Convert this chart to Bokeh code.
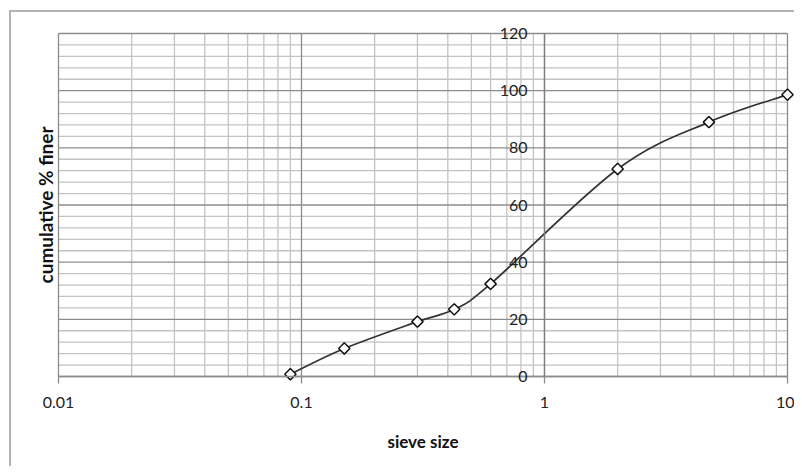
import numpy as np
from bokeh.plotting import figure
from bokeh.models import FixedTicker, Range1d, Label, CustomJSTickFormatter
from bokeh.embed import file_html
from bokeh.resources import INLINE

# ---- data ----
sieve_size = [0.09, 0.15, 0.3, 0.425, 0.6, 2.0, 4.75, 10.0]
pct_finer = [0.8, 9.8, 19.2, 23.5, 32.4, 72.6, 89.0, 98.6]

x_major = [0.01, 0.1, 1, 10]
y_major = [0, 20, 40, 60, 80, 100, 120]

x_minor = [d * m for d in [0.01, 0.1, 1] for m in range(2, 10)]
y_minor = [v for v in range(0, 121, 4) if v % 20 != 0]

# ---- layout (pixels) ----
W, H = 794, 466
PL, PR, PT, PB = 58, 787, 33, 376          # plot-area edges in canvas pixels
xlo, xhi = np.log10(x_major[0]), np.log10(x_major[-1])
ylo, yhi = y_major[0], y_major[-1]
ppx = (PR - PL) / (xhi - xlo)               # pixels per decade
ppy = (PB - PT) / (yhi - ylo)               # pixels per % unit
x_range = Range1d(10 ** (xlo - PL / ppx), 10 ** (xhi + (W - PR) / ppx))
y_range = Range1d(ylo - (H - PB) / ppy, yhi + PT / ppy)

p = figure(width=W, height=H, x_axis_type="log",
           x_range=x_range, y_range=y_range,
           output_backend="svg", toolbar_location=None,
           min_border_left=0, min_border_right=0,
           min_border_top=0, min_border_bottom=0)
p.border_fill_color = None
p.background_fill_color = None
p.outline_line_color = None
p.grid.visible = False
p.styles = {"box-shadow": "inset 9px 10px 0 0 white, inset 11px 12px 0 0 #b2b2b2"}

MAJOR_C, MINOR_C = "#8c8c8c", "#c3c3c3"

# grid lines (minor then major)
p.segment(x0=x_minor, y0=[ylo] * len(x_minor), x1=x_minor, y1=[yhi] * len(x_minor),
          line_color=MINOR_C, line_width=1.3)
p.segment(x0=[10 ** xlo] * len(y_minor), y0=y_minor, x1=[10 ** xhi] * len(y_minor), y1=y_minor,
          line_color=MINOR_C, line_width=1.3)
p.segment(x0=x_major, y0=[ylo] * len(x_major), x1=x_major, y1=[yhi] * len(x_major),
          line_color=MAJOR_C, line_width=1.3)
p.segment(x0=[10 ** xlo] * len(y_major), y0=y_major, x1=[10 ** xhi] * len(y_major), y1=y_major,
          line_color=MAJOR_C, line_width=1.3)

label_font = "Lato"

# x axis along y = 0
xa = p.xaxis[0]
xa.fixed_location = 0
xa.bounds = (x_major[0], x_major[-1])
xa.ticker = FixedTicker(ticks=x_major, minor_ticks=[])
xa.formatter = CustomJSTickFormatter(code="return String(parseFloat(tick.toPrecision(6)));")
xa.axis_line_color = MAJOR_C
xa.axis_line_width = 1.3
xa.major_tick_line_color = MAJOR_C
xa.major_tick_line_width = 1.3
xa.major_tick_out = 7
xa.major_tick_in = 0
xa.minor_tick_out = 0
xa.minor_tick_in = 0
xa.major_label_standoff = 13
xa.major_label_text_font = label_font
xa.major_label_text_font_size = "16px"
xa.major_label_text_color = "#222222"
xa.axis_label = "sieve size"
xa.axis_label_text_font = label_font
xa.axis_label_text_font_style = "bold"
xa.axis_label_text_font_size = "17px"
xa.axis_label_text_color = "#111111"
xa.axis_label_standoff = 20

# y axis crossing at x = 1
ya = p.yaxis[0]
ya.fixed_location = 1
ya.bounds = (ylo, yhi)
ya.ticker = FixedTicker(ticks=y_major, minor_ticks=[])
ya.axis_line_color = "#7f7f7f"
ya.axis_line_width = 1.3
ya.major_tick_out = 0
ya.major_tick_in = 0
ya.minor_tick_out = 0
ya.minor_tick_in = 0
ya.major_label_standoff = 17
ya.major_label_text_font = label_font
ya.major_label_text_font_size = "16px"
ya.major_label_text_color = "#222222"

# y-axis title, 13 px left of the plot area
p.add_layout(Label(x=10 ** (xlo - 13 / ppx), y=(ylo + yhi) / 2,
                   text="cumulative % finer", angle=np.pi / 2,
                   text_align="center", text_baseline="middle",
                   text_font=label_font, text_font_style="bold",
                   text_font_size="19px", text_color="#111111"))

# smoothed line (Excel-style cubic Bezier through the data points)
lx = np.log10(np.array(sieve_size))
ly = np.array(pct_finer)
n = len(lx)
px = np.concatenate([[lx[0]], lx, [lx[-1]]])
py = np.concatenate([[ly[0]], ly, [ly[-1]]])
x0 = lx[:-1]; y0 = ly[:-1]; x1 = lx[1:]; y1 = ly[1:]
c0x = px[1:n] + (px[2:n + 1] - px[0:n - 1]) / 6.0
c0y = py[1:n] + (py[2:n + 1] - py[0:n - 1]) / 6.0
c1x = px[2:n + 1] - (px[3:n + 2] - px[1:n]) / 6.0
c1y = py[2:n + 1] - (py[3:n + 2] - py[1:n]) / 6.0

p.bezier(x0=10 ** x0, y0=y0, x1=10 ** x1, y1=y1,
         cx0=10 ** c0x, cy0=c0y, cx1=10 ** c1x, cy1=c1y,
         line_color="#333333", line_width=1.7)

p.scatter(sieve_size, pct_finer, marker="square", angle=np.pi / 4,
          size=8, fill_color="white", line_color="#111111", line_width=1.5)

open("out.html", "w").write(file_html(p, INLINE))
